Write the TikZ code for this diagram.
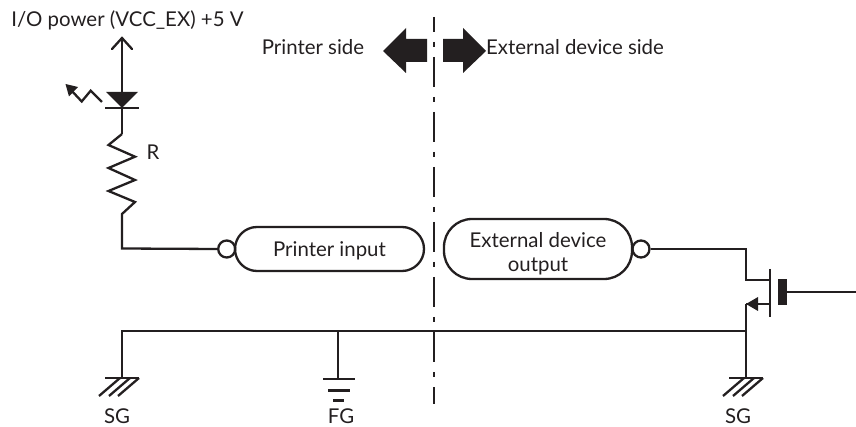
\documentclass[tikz,border=0pt]{standalone}
\usepackage{fontspec}
\setmainfont{Lato}
\begin{document}
\begin{tikzpicture}[x=1pt,y=-1pt,
  wire/.style={draw=ink,line width=2.3pt,line join=miter},
  lbl/.style={font=\fontsize{20.4}{24}\selectfont,text=ink,inner sep=0pt,align=center},
  pill/.style={draw=ink,line width=2.3pt,rounded corners=#1,inner sep=0pt},
  bubble/.style={circle,draw=ink,line width=2.3pt,minimum size=17pt,inner sep=0pt}]
\definecolor{ink}{HTML}{231F20}
\useasboundingbox (0,0) rectangle (856,427);
% text
\node[lbl,anchor=base] (vcc) at (127.5,26.5) {I/O power (VCC\_EX) +5 V};
\node[lbl,anchor=base] (ps) at (313,55) {Printer side};
\node[lbl,anchor=base] (es) at (575,55) {External device side};
\node[lbl,anchor=base] (rl) at (153,160) {R};
\node[lbl,anchor=base] (sg1) at (117,423.5) {SG};
\node[lbl,anchor=base] (fg) at (341,423.5) {FG};
\node[lbl,anchor=base] (sg2) at (738,423.5) {SG};
% boxes
\node[pill=22pt,lbl,minimum width=189pt,minimum height=44pt,text height=19pt,text depth=4.4pt] (pin) at (329.5,249) {Printer input};
\node[pill=28pt,lbl,minimum width=188pt,minimum height=60pt] (eout) at (538,249) {\rule{0pt}{24.6pt}External device\\output};
\node[bubble] (c1) at (226.7,249) {};
\node[bubble] (c2) at (641,249) {};
% coordinates
\coordinate (up) at (122,38);
\coordinate (ledtop) at (122,92);
\coordinate (ledbot) at (122,108);
\coordinate (rtop) at (122,134);
\coordinate (rbot) at (122,214);
\coordinate (corner) at (122,248.5);
\coordinate (busl) at (122,331);
\coordinate (busr) at (746,331);
\coordinate (busf) at (338,331);
\coordinate (d1) at (746,249);
\coordinate (d2) at (746,280);
\coordinate (d3) at (770,280);
\coordinate (s1) at (770,304);
\coordinate (s2) at (746,304);
\coordinate (g1) at (786,292);
\coordinate (g2) at (856,292);
\coordinate (gl) at (122,378);
\coordinate (gr) at (746,378);
\coordinate (gf) at (338,379);
% power arrow and LED
\draw[wire] (ledtop) -- (up);
\draw[wire,line cap=round] (112,49) -- (up) -- (132,49);
\fill[ink] (106,92) -- (138,92) -- (122,108) -- cycle;
\draw[wire] (105,108) -- (139,108);
\draw[wire] (ledbot) -- (rtop);
% photon
\draw[wire] (102,102) -- (90.7,90.7) -- (81.7,101.5) -- (71,90);
\fill[ink] (65.5,84) -- (78,87) -- (69,96.5) -- cycle;
% resistor
\draw[wire] (rtop) -- (108.5,145) -- (135,156.7) -- (108.5,168) -- (135,180) -- (108.5,191) -- (135,202) -- (rbot) -- (corner) -- (c1.west);
% wire to output
\draw[wire] (c2.east) -- (d1) -- (d2) -- (d3);
% mosfet
\draw[wire] (770,269) -- (770,317);
\fill[ink] (778,279) rectangle (786.5,305);
\draw[wire] (g1) -- (g2);
\draw[wire] (s1) -- (s2);
\fill[ink] (746,304) -- (758,297) -- (758,311) -- cycle;
% bus
\draw[wire] (s2) -- (gr);
\draw[wire] (busr) -- (busl) -- (gl);
\draw[wire] (busf) -- (gf);
% grounds
\foreach \g in {gl,gr}{
  \draw[wire] ([xshift=-17pt]\g) -- ([xshift=17pt]\g);
  \draw[wire] ([xshift=-2pt]\g) -- ([xshift=-23pt,yshift=-18pt]\g);
  \draw[wire] ([xshift=8pt]\g) -- ([xshift=-13pt,yshift=-18pt]\g);
  \draw[wire] ([xshift=17pt]\g) -- ([xshift=-4pt,yshift=-18pt]\g);
}
\draw[wire] (323,379) -- (354.5,379);
\draw[wire] (328,390.5) -- (349.5,390.5);
\draw[wire] (333,400.5) -- (344,400.5);
% divider
\draw[draw=ink,line width=2.3pt,dash pattern=on 30pt off 10pt on 5pt off 10pt,dash phase=15pt] (434,17) -- (434,404);
% block arrows
\fill[ink] (383,51) -- (406,28) -- (406,39) -- (427,39) -- (427,62) -- (406,62) -- (406,73) -- cycle;
\fill[ink] (486,51) -- (463,28) -- (463,39) -- (443,39) -- (443,62) -- (463,62) -- (463,73) -- cycle;
\end{tikzpicture}
\end{document}
